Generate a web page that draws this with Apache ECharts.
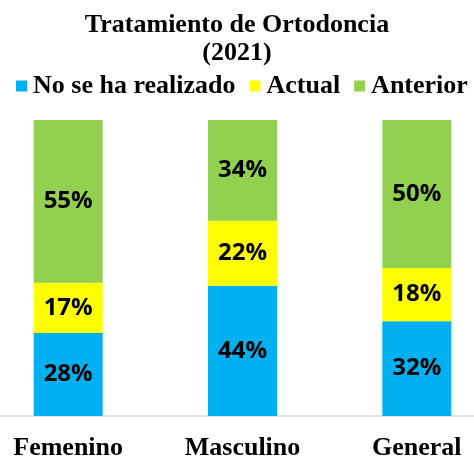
<!DOCTYPE html>
<html>
<head>
<meta charset="utf-8">
<script src="https://cdn.jsdelivr.net/npm/echarts@6/dist/echarts.min.js"></script>
<style>
    html, body { margin: 0; padding: 0; background: #fff; }
    #chart { width: 474px; height: 456px; }
</style>
</head>
<body>
<div id="chart"></div>
<script>
(function() {
"use strict";

    // 数据
    var categories = ['Femenino', 'Masculino', 'General'];
    var noRealizado = [28, 44, 32];
    var actual = [17, 22, 18];
    var anterior = [55, 34, 50];

    var serifFont = '"Liberation Serif", "DejaVu Serif", serif';
    var sansFont = '"Open Sans", "Noto Sans", sans-serif';

    function barSeries(name, data, color) {
        return {
            name: name,
            type: 'bar',
            stack: 'total',
            data: data,
            barWidth: 69,
            itemStyle: { color: color },
            label: {
                show: true,
                position: 'inside',
                formatter: '{c}%',
                color: '#000',
                fontFamily: sansFont,
                fontWeight: 'bold',
                fontSize: 24
            }
        };
    }

    var myChart = echarts.init(document.getElementById('chart'));
    var option = {
        animation: false,
        title: {
            text: 'Tratamiento de Ortodoncia\n(2021)',
            left: 'center',
            top: 6,
            textStyle: {
                fontFamily: serifFont,
                fontWeight: 'bold',
                fontSize: 26,
                lineHeight: 28,
                color: '#000'
            }
        },
        legend: {
            top: 73,
            left: 16,
            padding: 0,
            icon: 'rect',
            itemWidth: 11,
            itemHeight: 11,
            itemGap: 14,
            textStyle: {
                fontFamily: serifFont,
                fontWeight: 'bold',
                fontSize: 26,
                color: '#000',
                padding: [0, 0, 0, 1]
            },
            data: ['No se ha realizado', 'Actual', 'Anterior']
        },
        grid: {
            left: -19,
            right: -30,
            top: 120,
            bottom: 40,
            outerBoundsMode: 'none'
        },
        xAxis: {
            type: 'category',
            data: categories,
            axisTick: { show: false },
            axisLine: { lineStyle: { color: '#d9d9d9', width: 1.5 } },
            axisLabel: {
                margin: 19,
                color: '#000',
                fontFamily: serifFont,
                fontWeight: 'bold',
                fontSize: 26
            }
        },
        yAxis: {
            type: 'value',
            min: 0,
            max: 100,
            show: false,
            splitLine: { show: false }
        },
        series: [
            barSeries('No se ha realizado', noRealizado, '#00B0F0'),
            barSeries('Actual', actual, '#FFFF00'),
            barSeries('Anterior', anterior, '#92D050')
        ]
    };
    myChart.setOption(option);
})();
</script>
</body>
</html>
